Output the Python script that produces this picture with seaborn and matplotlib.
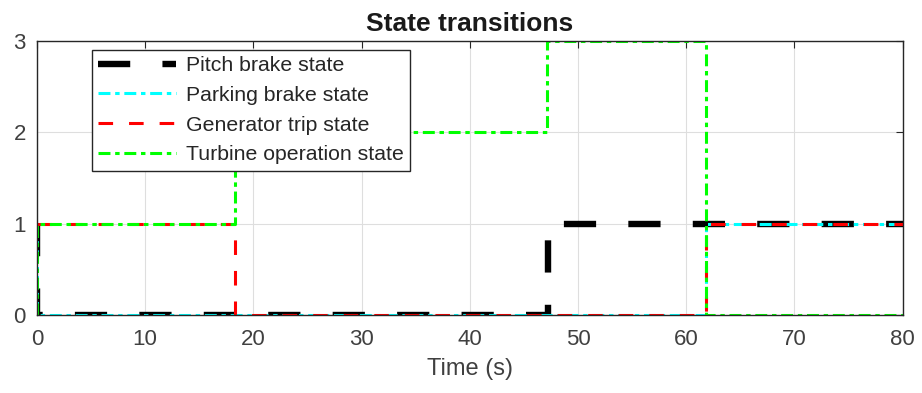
import matplotlib
matplotlib.use("Agg")
from matplotlib import pyplot as plt
import seaborn as sns
import pandas as pd

# state signals (time in s, state value), step changes
pitch_t = [0, 0, 47.2, 80]
pitch_v = [1, 0, 1, 1]
parking_t = [0, 0, 61.8, 80]
parking_v = [1, 0, 1, 1]
gen_t = [0, 18.3, 61.8, 80]
gen_v = [1, 0, 1, 1]
turbine_t = [0, 0, 18.3, 47.1, 61.8, 80]
turbine_v = [0, 1, 2, 3, 0, 0]

labels = ["Pitch brake state", "Parking brake state",
          "Generator trip state", "Turbine operation state"]

frames = []
for lab, t, v in zip(labels, [pitch_t, parking_t, gen_t, turbine_t],
                     [pitch_v, parking_v, gen_v, turbine_v]):
    d = pd.DataFrame({"time": t, "state": v})
    d["Legend"] = lab
    frames.append(d)
df = pd.concat(frames, ignore_index=True)

sns.set_style("white")
plt.rcParams["font.family"] = ["Liberation Sans", "DejaVu Sans"]
plt.rcParams["lines.scale_dashes"] = False

fig = plt.figure(figsize=(9.22, 3.93), dpi=100)
ax = fig.add_axes([0.040, 0.198, 0.939, 0.698])

styles = {
    "Pitch brake state": dict(color="black", lw=4.6, dashes=(23.2, 23.2)),
    "Parking brake state": dict(color="#00ffff", lw=2.2, dashes=(8.6, 3.4, 3.2, 3.4)),
    "Generator trip state": dict(color="#ff0000", lw=2.2, dashes=(10.5, 11.5)),
    "Turbine operation state": dict(color="#00ff00", lw=2.2, dashes=(8.6, 3.4, 3.2, 3.4)),
}
for lab in labels:
    st = styles[lab]
    sns.lineplot(data=df[df["Legend"] == lab], x="time", y="state",
                 estimator=None, sort=False, drawstyle="steps-post",
                 color=st["color"], linewidth=st["lw"], dashes=False,
                 label=lab, ax=ax)
    ax.lines[-1].set_dashes(st["dashes"])

ax.set_xlim(0, 80)
ax.set_ylim(0, 3)
ax.set_xticks(range(0, 81, 10))
ax.set_yticks([0, 1, 2, 3])
ax.grid(True, color="#dedede", linewidth=0.8)
ax.set_axisbelow(True)
for s in ax.spines.values():
    s.set_color("#262626")
    s.set_linewidth(1.0)
ax.tick_params(direction="in", top=True, right=True, length=5,
               labelsize=16, colors="#262626", labelcolor="#404040")
ax.tick_params(axis="x", pad=10)
ax.tick_params(axis="y", pad=8)
ax.set_xlabel("Time (s)", fontsize=17, color="#404040", labelpad=6)
ax.set_ylabel("")
ax.set_title("State transitions", fontsize=19, fontweight="bold",
             color="#1a1a1a", pad=7)

leg = ax.legend(loc="upper left", bbox_to_anchor=(0.0635, 0.967), fontsize=15.3,
                frameon=True, fancybox=False, edgecolor="#262626",
                handlelength=3.67, handletextpad=0.47, borderpad=0.3,
                labelspacing=0.5, borderaxespad=0, framealpha=1)
leg.get_frame().set_linewidth(1.0)
for t in leg.get_texts():
    t.set_color("#262626")

fig.savefig("out.png", dpi=100)
